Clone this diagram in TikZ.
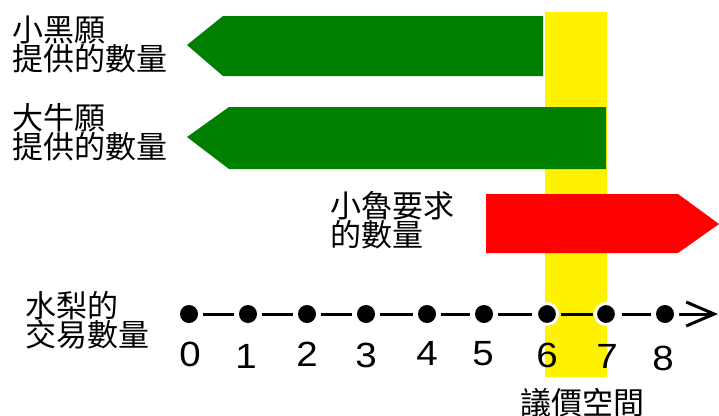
\documentclass[tikz,border=0pt]{standalone}
\usepackage{fontspec}
\setmainfont{Liberation Sans}
\newfontfamily\cjk{Noto Sans CJK TC}
\newfontfamily\digitfont[FakeStretch=1.1]{Liberation Sans}
\usetikzlibrary{arrows.meta}
\begin{document}
\begin{tikzpicture}[x=1pt,y=-1pt,
  lbl/.style={anchor=north west, inner sep=0, align=left, font=\cjk\fontsize{31}{29}\selectfont},
  num/.style={anchor=base, inner sep=0, font=\digitfont\fontsize{35}{35}\selectfont},
  dot/.style={circle, fill=black, inner sep=0, minimum size=18pt},
  rdot/.style={circle, fill=black, draw=white, line width=3pt, inner sep=0, minimum size=21pt},
  seg/.style={line width=3pt, shorten <=5pt, shorten >=5pt},
  supply/.style={fill={rgb,255:red,0;green,128;blue,0}},
  demand/.style={fill=red},
  zone/.style={fill=yellow}
  ]
\useasboundingbox (0,0) rectangle (719,415);
% negotiation zone
\path[zone] (545,12) rectangle (607,377);
% arrows
\path[supply] (187,45) -- (223,16) -- (543,16) -- (543,76) -- (223,76) -- cycle;
\path[supply] (187,137) -- (229,107) -- (606,107) -- (606,169) -- (229,169) -- cycle;
\path[demand] (486,194) -- (678,194) -- (719,224) -- (678,253) -- (486,253) -- cycle;
% labels
\node[lbl] (l1) at (12,16) {小黑願\\提供的數量};
\node[lbl] (l2) at (12,103) {大牛願\\提供的數量};
\node[lbl] (l3) at (330,191) {小魯要求\\的數量};
\node[lbl] (l4) at (25,291) {水梨的\\交易數量};
\node[lbl] (l5) at (520,388) {議價空間};
% number line
\node[dot] (d0) at (189,314) {};
\node[dot] (d1) at (248,314) {};
\node[dot] (d2) at (307,314) {};
\node[dot] (d3) at (366,314) {};
\node[dot] (d4) at (427,314) {};
\node[dot] (d5) at (484,314) {};
\node[rdot] (d6) at (547,314) {};
\node[rdot] (d7) at (606,314) {};
\node[dot] (d8) at (665,314) {};
\coordinate (end) at (718,314);
\draw[seg] (d0) -- (d1);
\draw[seg] (d1) -- (d2);
\draw[seg] (d2) -- (d3);
\draw[seg] (d3) -- (d4);
\draw[seg] (d4) -- (d5);
\draw[seg, shorten >=3.5pt] (d5) -- (d6);
\draw[seg, shorten <=1.5pt, shorten >=1.5pt] (d6) -- (d7);
\draw[seg, shorten <=3.5pt] (d7) -- (d8);
\draw[seg, shorten >=0pt, -{Straight Barb[length=28pt,width=24pt]}] (d8) -- (end);
% numbers
\node[num] (n0) at (190,366) {0};
\node[num] (n1) at (246,368) {1};
\node[num] (n2) at (307,366) {2};
\node[num] (n3) at (366,367) {3};
\node[num] (n4) at (427,365) {4};
\node[num] (n5) at (483,365) {5};
\node[num] (n6) at (547,367) {6};
\node[num] (n7) at (607,368) {7};
\node[num] (n8) at (663,370) {8};
\end{tikzpicture}
\end{document}
